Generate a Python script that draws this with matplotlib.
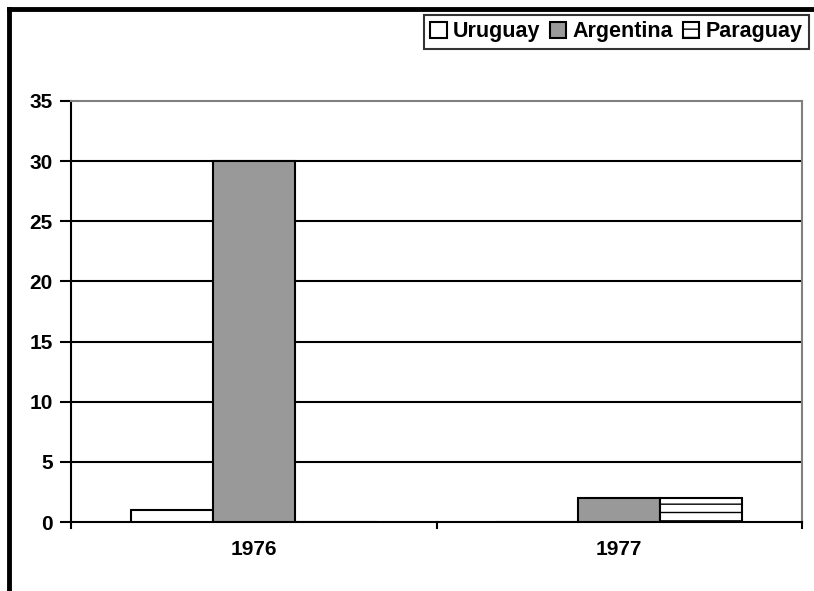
"""
Bar chart: Uruguay / Argentina / Paraguay, 1976-1977
"""

import matplotlib
matplotlib.use('Agg')
import matplotlib.pyplot as plt
from matplotlib.lines import Line2D
import numpy as np

years = ['1976', '1977']
countries = ['Uruguay', 'Argentina', 'Paraguay']
uruguay = [1, 0]
argentina = [30, 2]
paraguay = [0, 2]

plt.rcParams['font.family'] = ['Liberation Sans', 'DejaVu Sans']
plt.rcParams['font.weight'] = 'bold'
plt.rcParams['hatch.color'] = '#808080'
plt.rcParams['hatch.linewidth'] = 1.0

fig = plt.figure(figsize=(8.14, 5.91), dpi=100)
ax = fig.add_axes([71/814, 1-522/591, (802-71)/814, (522-101)/591])

x = np.arange(len(years))
w = 82/366
styles = [
    dict(color='white', hatch=None),
    dict(color='#999999', hatch=None),
    dict(color='white', hatch='--'),
]
series = [uruguay, argentina, paraguay]
handles = []
for i, (vals, st) in enumerate(zip(series, styles)):
    b = ax.bar(x + (i-1)*w, vals, w, facecolor=st['color'], edgecolor='black',
               linewidth=1.5, hatch=st['hatch'], label=countries[i], zorder=3)
    handles.append(b)

ax.set_xlim(-0.5, 1.5)
ax.set_ylim(0, 35)
ax.set_yticks(range(0, 36, 5))
ax.set_xticks(x)
ax.set_xticklabels(years, fontsize=15, fontweight='bold')
ax.tick_params(axis='x', length=0, pad=13)
ax.tick_params(axis='y', labelsize=15, length=8, width=1.5, direction='out', pad=5)
for t in ax.get_yticklabels():
    t.set_fontweight('bold')

# category separator ticks
for xs in [-0.5, 0.5, 1.5]:
    ax.plot([xs, xs], [0, -0.5], color='black', lw=1.5, clip_on=False, zorder=4)

for yv in range(5, 35, 5):
    ax.axhline(yv, color='black', lw=1.5, zorder=1)

ax.spines['left'].set_linewidth(1.5)
ax.spines['bottom'].set_linewidth(1.5)
ax.spines['top'].set_color('#808080')
ax.spines['top'].set_linewidth(1.5)
ax.spines['right'].set_color('#808080')
ax.spines['right'].set_linewidth(1.5)

leg = fig.legend(handles=handles, labels=countries, loc='upper left',
                 bbox_to_anchor=(424/814, 1-15/591), ncol=3, frameon=True,
                 fancybox=False, edgecolor='black', fontsize=15.5,
                 handlelength=0.75, handleheight=0.75, handletextpad=0.3,
                 columnspacing=0.45, borderpad=0.3, borderaxespad=0)
leg.get_frame().set_linewidth(1.5)
for t in leg.get_texts():
    t.set_fontweight('bold')

# outer chart border (top and left)
fig.add_artist(Line2D([9/814, 1], [1-9/591, 1-9/591], color='black', lw=3.5))
fig.add_artist(Line2D([9/814, 9/814], [0, 1-9/591], color='black', lw=3.5))

fig.savefig('out.png', dpi=100)
